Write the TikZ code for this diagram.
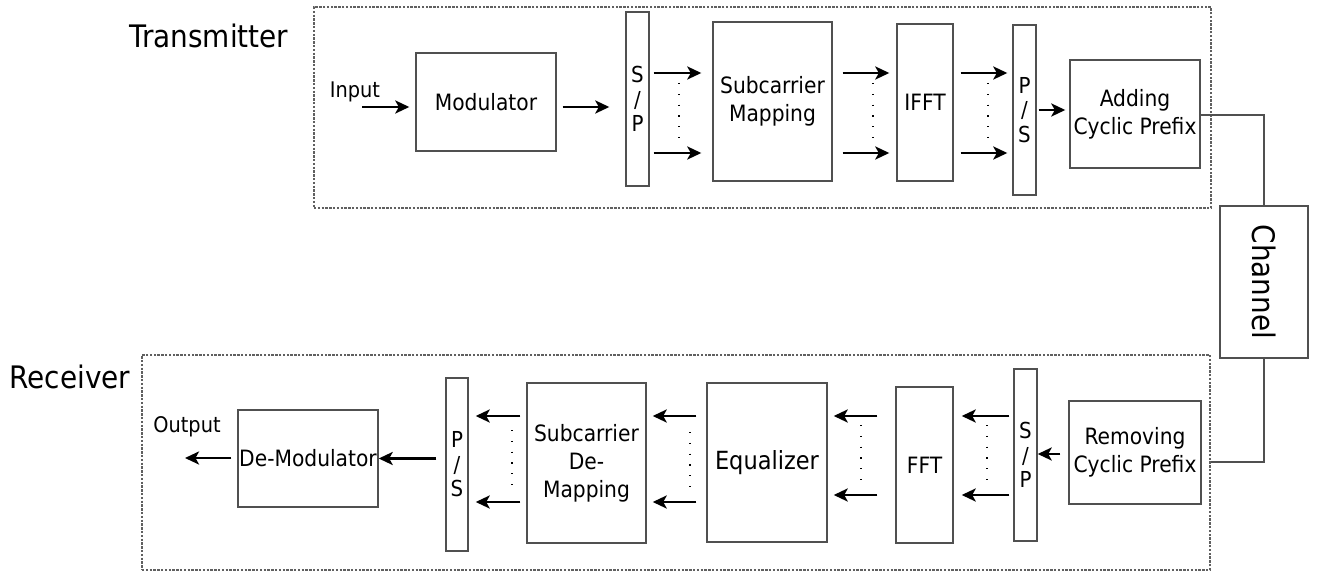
\documentclass[tikz,border=0pt]{standalone}
\usepackage{fontspec}
\setmainfont{DejaVu Sans Condensed}
\usetikzlibrary{arrows.meta,calc}

\definecolor{edge}{HTML}{505050}
\definecolor{frame}{HTML}{606060}

\tikzset{
  blk/.style={draw=edge, line width=1.4pt, fill=white, inner sep=0pt, align=center,
    font=\fontsize{22.5}{28}\selectfont},
  bar/.style={blk, font=\fontsize{22}{24.5}\selectfont},
  arr/.style={line width=2.6pt, -{Stealth[length=14pt,width=13pt,inset=3.5pt]}},
  link/.style={draw=edge, line width=1.4pt},
  dotcol/.style={line width=1.6pt, dash pattern=on 1.2pt off 9.6pt},
  groupbox/.style={draw=frame, line width=1.2pt, dash pattern=on 2.4pt off 1.4pt},
  caption/.style={font=\fontsize{31}{34}\selectfont, inner sep=0pt},
  small/.style={font=\fontsize{21.5}{24}\selectfont, inner sep=0pt}
}

\newcommand{\blkat}[6]{% name, x1, y1, x2, y2, text
  \node[blk, minimum width={#4-#2}, minimum height={#5-#3}] (#1) at ({(#2+#4)/2},{(#3+#5)/2}) {#6};}

\begin{document}
\begin{tikzpicture}[x=1pt,y=-1pt]
\useasboundingbox (0,0) rectangle (1320,572);

% group frames
\node[groupbox, minimum width=897, minimum height=201, inner sep=0pt] (tx) at (762.5,107.5) {};
\node[groupbox, minimum width=1068, minimum height=215, inner sep=0pt] (rx) at (676,462.5) {};
\node[caption] (txl) at (209,36) {Transmitter};
\node[caption] (rxl) at (70,377) {Receiver};

% transmitter chain
\blkat{mod}{416}{53}{556}{151}{Modulator}
\node[bar, minimum width=23, minimum height=174] (sp1) at (637.5,99) {S\\/\\P};
\blkat{smap}{713}{22}{832}{181}{Subcarrier\\Mapping}
\blkat{ifft}{897}{24}{953}{181}{IFFT}
\node[bar, minimum width=23, minimum height=170] (ps1) at (1024.5,110) {P\\/\\S};
\blkat{acp}{1070}{60}{1200}{168}{Adding\\Cyclic Prefix}

% channel
\node[blk, minimum width=88, minimum height=152] (ch) at (1264,282)
  {\rotatebox{-90}{\fontsize{31}{34}\selectfont Channel}};

% receiver chain
\blkat{rcp}{1069}{401}{1201}{504}{Removing\\Cyclic Prefix}
\node[bar, minimum width=23, minimum height=172] (sp2) at (1025.5,455) {S\\/\\P};
\blkat{fft}{896}{387}{953}{543}{FFT}
\blkat{eq}{707}{383}{827}{542}{\fontsize{25}{28}\selectfont Equalizer}
\blkat{sdm}{527}{383}{646}{543}{Subcarrier\\De-\\Mapping}
\node[bar, minimum width=22, minimum height=173] (ps2) at (457,464.5) {P\\/\\S};
\blkat{dem}{238}{410}{378}{507}{De-Modulator}

% free ends and row levels
\coordinate (inp) at (362,107);
\coordinate (outp) at (185,458);
\coordinate (ta) at (0,73);
\coordinate (tb) at (0,153);
\coordinate (ra) at (0,416);
\coordinate (rb) at (0,495);
\coordinate (rc) at (0,502);

\node[small, anchor=south] (inl) at (355,102) {Input};
\node[small] (outl) at (187,427) {Output};

% transmitter arrows
\draw[arr, shorten >=6pt] (inp) -- (mod.west |- inp);
\draw[arr, shorten <=6pt, shorten >=16pt] (mod.east |- inp) -- (sp1.west |- inp);
\draw[arr, shorten <=4pt, shorten >=11pt] (sp1.east |- ta) -- (smap.west |- ta);
\draw[arr, shorten <=4pt, shorten >=11pt] (sp1.east |- tb) -- (smap.west |- tb);
\draw[arr, shorten <=10pt, shorten >=7pt] (smap.east |- ta) -- (ifft.west |- ta);
\draw[arr, shorten <=10pt, shorten >=7pt] (smap.east |- tb) -- (ifft.west |- tb);
\draw[arr, shorten <=7pt, shorten >=5pt] (ifft.east |- ta) -- (ps1.west |- ta);
\draw[arr, shorten <=7pt, shorten >=5pt] (ifft.east |- tb) -- (ps1.west |- tb);
\draw[arr, shorten <=2pt, shorten >=4pt] (ps1.east) -- (acp.west |- ps1.east);

\draw[dotcol] (679,83) -- (679,138);
\draw[dotcol] (873,83) -- (873,138);
\draw[dotcol] (988,83) -- (988,138);

% channel links
\draw[link] (acp.east |- 0,115) -| (ch.north);
\draw[link] (ch.south) |- (rx.east |- 0,462);

% receiver arrows
\draw[arr, shorten <=8pt] (rcp.west |- 0,454) -- (sp2.east |- 0,454);
\draw[arr, shorten <=4pt, shorten >=8pt] (sp2.west |- ra) -- (fft.east |- ra);
\draw[arr, shorten <=4pt, shorten >=8pt] (sp2.west |- rb) -- (fft.east |- rb);
\draw[arr, shorten <=18pt, shorten >=6pt] (fft.west |- ra) -- (eq.east |- ra);
\draw[arr, shorten <=18pt, shorten >=6pt] (fft.west |- rb) -- (eq.east |- rb);
\draw[arr, shorten <=10pt, shorten >=6pt] (eq.west |- ra) -- (sdm.east |- ra);
\draw[arr, shorten <=10pt, shorten >=6pt] (eq.west |- rc) -- (sdm.east |- rc);
\draw[arr, shorten <=6pt, shorten >=7pt] (sdm.west |- ra) -- (ps2.east |- ra);
\draw[arr, shorten <=6pt, shorten >=7pt] (sdm.west |- rc) -- (ps2.east |- rc);
\draw[arr, shorten <=9pt] (ps2.west |- dem.east) -- (dem.east);
\draw[arr, shorten <=6pt] (dem.west |- outp) -- (outp);

\draw[dotcol] (987,425) -- (987,481);
\draw[dotcol] (861,425) -- (861,481);
\draw[dotcol] (690,432) -- (690,488);
\draw[dotcol] (512,430) -- (512,486);
\end{tikzpicture}
\end{document}
